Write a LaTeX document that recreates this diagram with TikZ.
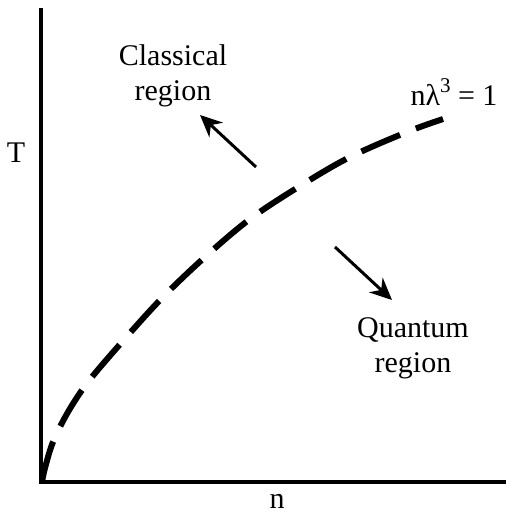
\documentclass[tikz,border=0pt]{standalone}
\usepackage{fontspec}
\setmainfont{Liberation Serif}
\usetikzlibrary{arrows.meta}
\begin{document}
\begin{tikzpicture}[x=1pt,y=-1pt,
  lbl/.style={anchor=base,inner sep=0pt,font=\fontsize{30}{35}\selectfont},
  axis/.style={line width=4pt},
  curve/.style={line width=6pt,dash pattern=on 42pt off 17pt},
  arr/.style={line width=3pt,-{Stealth[length=22pt,width=20pt]}}]
\useasboundingbox (0,0) rectangle (506,514);
\coordinate (O) at (41,482);
\coordinate (top) at (41,8);
\coordinate (right) at (506,482);
\draw[axis] (top) -- (41,484);
\draw[axis] (39,482) -- (right);
\node[lbl] (T) at (16,162) {T};
\node[lbl] (n) at (277,508) {n};
\draw[curve] plot[smooth,tension=0.55] coordinates {(42,482) (45,468) (53,442) (68,412) (88,382) (122,342) (162,298) (205,257) (250,219) (300,186) (350,157) (407,132) (443,119)};
\node[lbl] (eq) at (454,105) {nλ\raisebox{0.42em}{\fontsize{21}{21}\selectfont 3} = 1};
\node[lbl] (cl1) at (173,65) {Classical};
\node[lbl] (cl2) at (173,100) {region};
\node[lbl] (qu1) at (413,337) {Quantum};
\node[lbl] (qu2) at (413,372) {region};
\coordinate (a1s) at (256,167);
\coordinate (a1e) at (200,115);
\coordinate (a2s) at (335,247);
\coordinate (a2e) at (392,300);
\draw[arr] (a1s) -- (a1e);
\draw[arr] (a2s) -- (a2e);
\end{tikzpicture}
\end{document}
